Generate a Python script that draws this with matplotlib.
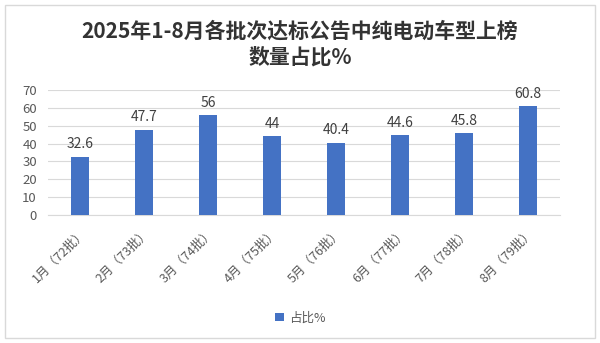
import matplotlib.pyplot as plt
import numpy as np
from matplotlib.patches import Rectangle

plt.rcParams['font.family'] = ['Noto Sans CJK SC', 'DejaVu Sans']

labels = ['1月（72批）', '2月（73批）', '3月（74批）', '4月（75批）',
          '5月（76批）', '6月（77批）', '7月（78批）', '8月（79批）']
values = [32.6, 47.7, 56, 44, 40.4, 44.6, 45.8, 60.8]
yticks = [0, 10, 20, 30, 40, 50, 60, 70]

fig = plt.figure(figsize=(6, 3.43), dpi=100)
ax = fig.add_axes([0.08, 0.373, 0.853, 0.365])

x = np.arange(len(values))
ax.bar(x, values, width=0.29, color='#4472C4', label='占比%', zorder=3)
for xi, v in zip(x, values):
    ax.text(xi, v + 3, '%g' % v, ha='center', va='bottom', fontsize=10, color='#404040')

ax.set_ylim(0, 70)
ax.set_xlim(-0.5, len(values) - 0.5)
ax.set_yticks(yticks)
ax.yaxis.grid(True, color='#D9D9D9', linewidth=0.8, zorder=0)
ax.tick_params(axis='y', length=0, labelsize=9.5, labelcolor='#595959', pad=8)
ax.tick_params(axis='x', length=0, labelsize=9, labelcolor='#595959', pad=8)
ax.set_xticks(x)
ax.set_xticklabels(labels, rotation=45, ha='right', rotation_mode='anchor')
for s in ['top', 'right', 'left']:
    ax.spines[s].set_visible(False)
ax.spines['bottom'].set_color('#D9D9D9')

fig.text(0.5, 0.91, '2025年1-8月各批次达标公告中纯电动车型上榜', ha='center', va='center',
         fontsize=15, fontweight='bold', color='#333333')
fig.text(0.5, 0.835, '数量占比%', ha='center', va='center',
         fontsize=15, fontweight='bold', color='#333333')

fig.legend(loc='center', bbox_to_anchor=(0.5, 0.073), frameon=False, fontsize=9,
           handlelength=0.7, handleheight=0.7, handletextpad=0.4, labelcolor='#595959')

fig.patches.append(Rectangle((0.008, 0.015), 0.984, 0.97, transform=fig.transFigure,
                             fill=False, edgecolor='#D9D9D9', linewidth=1))

fig.savefig('out.png', dpi=100)
